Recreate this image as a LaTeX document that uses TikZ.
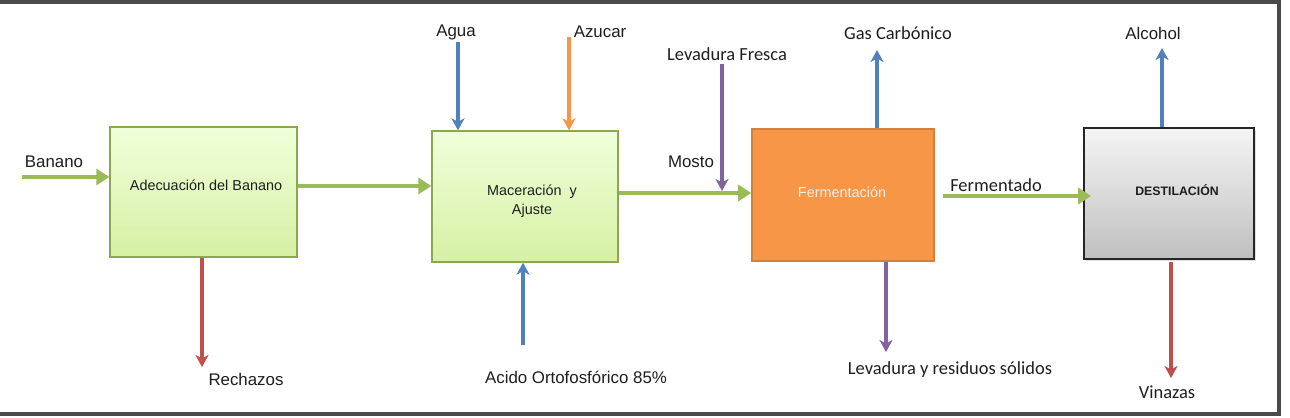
\documentclass[tikz,border=0pt]{standalone}
\usepackage{fontspec}
\setmainfont{Liberation Sans}
\newfontfamily\calib{Carlito}
\usetikzlibrary{arrows.meta,calc,shadows}
\definecolor{ogreen}{HTML}{9BBB59}
\definecolor{ored}{HTML}{C0504D}
\definecolor{oblue}{HTML}{4F81BD}
\definecolor{oorange}{HTML}{F79646}
\definecolor{opurple}{HTML}{8064A2}
\definecolor{boxtop}{HTML}{F0FFDA}
\definecolor{boxbot}{HTML}{D6F0A4}
\definecolor{frame}{HTML}{4A4A4A}
\definecolor{txt}{HTML}{1E1E1E}
\tikzset{
  gbox/.style={draw=ogreen!90!black, line width=0.8pt, top color=boxtop, bottom color=boxbot, inner sep=0pt},
  obox/.style={draw=oorange!85!black, line width=0.9pt, fill=oorange, inner sep=0pt},
  dbox/.style={draw=black!85, line width=1pt, top color=black!4, bottom color=black!25, inner sep=0pt, drop shadow={opacity=0.25, shadow xshift=0.04cm, shadow yshift=-0.04cm}},
  btxt/.style={text=txt, font=\fontsize{8.2}{11}\selectfont, inner sep=0pt, align=center},
  garrow/.style={draw=ogreen, line width=2.6pt, -{Triangle[length=0.26cm,width=0.32cm]}},
  farrow/.style={line width=1.8pt, -{Stealth[length=0.24cm,width=0.26cm,inset=0.07cm]}},
  lbl/.style={text=txt, font=\fontsize{9.6}{11}\selectfont, inner sep=0pt},
  clbl/.style={text=txt, font=\calib\fontsize{10.5}{12}\selectfont, inner sep=0pt},
}
\begin{document}
\begin{tikzpicture}[x=0.02cm,y=-0.02cm]
\useasboundingbox (0,0) rectangle (1290,417);
\fill[white] (0,0) rectangle (1290,417);
\draw[frame, line width=1.8pt] (0,2) -- (1279,2) -- (1279,414) -- (0,414);

% boxes
\node[gbox, minimum width=3.74cm, minimum height=2.6cm] (b1) at (203.5,192) {};
\node[btxt] (t1) at (206,185) {Adecuación del Banano};
\node[gbox, minimum width=3.72cm, minimum height=2.62cm] (b2) at (525,196.5) {};
\node[btxt] (t2) at (532,201) {Maceración\ \ y\\Ajuste};
\node[obox, minimum width=3.64cm, minimum height=2.64cm] (b3) at (843,195) {};
\node[btxt, text=white!85!oorange] (t3) at (842,192) {Fermentación};
\node[dbox, minimum width=3.4cm, minimum height=2.62cm] (b4) at (1169,193.5) {};
\node[btxt, font=\fontsize{7}{8}\selectfont\bfseries] (t4) at (1177,190) {DESTILACIÓN};

% coordinates for free ends
\coordinate (banano) at (22,177);
\coordinate (rech) at (202,367);
\coordinate (agua) at (458,42);
\coordinate (azuc) at (569,37);
\coordinate (levf) at (722,64);
\coordinate (levfe) at (722,191);
\coordinate (acido) at (523,345);
\coordinate (gas) at (877,50);
\coordinate (levr) at (886,352);
\coordinate (alco) at (1162,48);
\coordinate (vinst) at (1171,262);
\coordinate (vin) at (1171,378);

% green main flow
\draw[garrow] (banano) -- (banano -| b1.west);
\draw[garrow] ([yshift=0.12cm]b1.east) -- ([yshift=0.12cm]b1.east -| b2.west);
\draw[garrow] ([yshift=0.07cm]b2.east) -- ([yshift=0.07cm]b2.east -| b3.west);
\draw[garrow] ([xshift=0.16cm,yshift=-0.02cm]b3.east) -- ([xshift=0.16cm,yshift=-0.02cm]b3.east -| b4.west);

% side flows
\draw[farrow, draw=ored] (rech |- b1.south) -- (rech);
\draw[farrow, draw=oblue] (agua) -- (agua |- b2.north);
\draw[farrow, draw=oorange] (azuc) -- (azuc |- b2.north);
\draw[farrow, draw=opurple] (levf) -- (levfe);
\draw[farrow, draw=oblue] (acido) -- (acido |- b2.south);
\draw[farrow, draw=oblue] (gas |- b3.north) -- (gas);
\draw[farrow, draw=opurple] (levr |- b3.south) -- (levr);
\draw[farrow, draw=oblue] (alco |- b4.north) -- (alco);
\draw[farrow, draw=ored] (vinst) -- (vin);

% labels
\node[lbl] (lbanano) at (54,162) {Banano};
\node[lbl] (lrech) at (246,379) {Rechazos};
\node[lbl] (lagua) at (456,32) {Agua};
\node[lbl] (lazuc) at (600,32) {Azucar};
\node[clbl] (llevf) at (727,54) {Levadura Fresca};
\node[lbl] (lmosto) at (691,162) {Mosto};
\node[lbl] (lacido) at (576,377) {Acido Ortofosfórico 85\%};
\node[clbl] (lgas) at (898,33) {Gas Carbónico};
\node[clbl] (lferm) at (996,185) {Fermentado};
\node[clbl] (llevr) at (950,370) {Levadura y residuos sólidos};
\node[lbl] (lalco) at (1153,33) {Alcohol};
\node[clbl] (lvin) at (1167,392) {Vinazas};
\end{tikzpicture}
\end{document}
